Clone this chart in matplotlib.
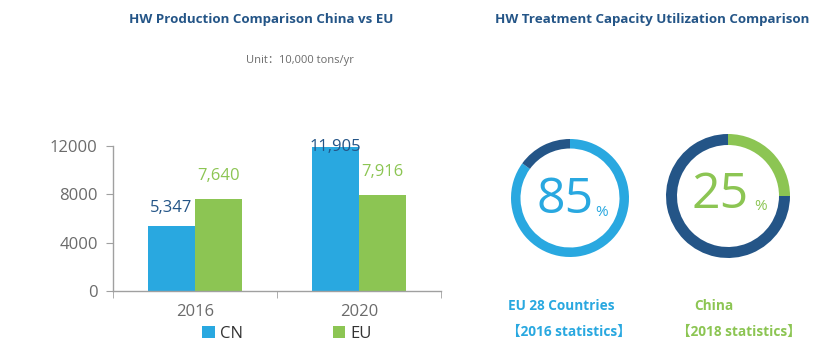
import matplotlib
matplotlib.use("Agg")
import matplotlib.pyplot as plt
import numpy as np

plt.rcParams['font.family'] = ['Open Sans', 'Noto Sans CJK SC', 'DejaVu Sans']

# ---- data ----
years = ["2016", "2020"]
cn_values = [5347, 11905]
eu_values = [7640, 7916]
series_names = ["CN", "EU"]
yticks = [0, 4000, 8000, 12000]

util_values = [85, 25]
util_labels = ["EU 28 Countries", "China"]
util_sub = ["【2016 statistics】", "【2018 statistics】"]

# ---- colors ----
LIGHT_BLUE = "#29a8e0"
DARK_BLUE = "#245587"
GREEN = "#8cc553"
GRAY = "#6b6b6b"
AXIS_GRAY = "#a0a0a0"

W, H = 834, 364
fig = plt.figure(figsize=(W / 100, H / 100), dpi=100)

def px_axes(x0, y0, x1, y1):
    """axes from pixel box (top-left origin)"""
    return fig.add_axes([x0 / W, 1 - y1 / H, (x1 - x0) / W, (y1 - y0) / H])

# ---- bar chart ----
ax = px_axes(113, 146, 441, 291)
x = np.arange(len(years))
bw = 0.287
b1 = ax.bar(x - bw / 2, cn_values, bw, color=LIGHT_BLUE, label=series_names[0])
b2 = ax.bar(x + bw / 2, eu_values, bw, color=GREEN, label=series_names[1])
ax.set_xlim(-0.5, 1.5)
ax.set_ylim(0, 12000)
ax.set_yticks(yticks)
ax.set_yticklabels([str(v) for v in yticks])
ax.set_xticks(x)
ax.set_xticklabels(years)
ax.set_xticks([-0.5, 0.5, 1.5], minor=True)
ax.tick_params(axis='x', which='major', length=0, pad=9, labelsize=12, labelcolor=GRAY)
ax.tick_params(axis='x', which='minor', length=5, direction='out', color=AXIS_GRAY)
ax.tick_params(axis='y', length=5, direction='out', color=AXIS_GRAY, labelsize=12, labelcolor=GRAY, pad=6)
for s in ['top', 'right']:
    ax.spines[s].set_visible(False)
for s in ['left', 'bottom']:
    ax.spines[s].set_color(AXIS_GRAY)
    ax.spines[s].set_linewidth(1)

for xi, v in zip(x, cn_values):
    ax.text(xi - bw / 2, min(v + 1500, 11900), f"{v:,}", ha='center', va='center',
            color=DARK_BLUE, fontsize=12)
for xi, v in zip(x, eu_values):
    ax.text(xi + bw / 2, min(v + 1900, 11900), f"{v:,}", ha='center', va='center',
            color=GREEN, fontsize=12)

fig.legend(handles=[b1, b2], loc='center', bbox_to_anchor=(287 / W, 1 - 334 / H),
           ncol=2, frameon=False, handlelength=0.75, handleheight=0.75,
           handletextpad=0.3, columnspacing=5.4, fontsize=12, labelcolor='#333333',
           borderpad=0.2)

# ---- titles ----
fig.text(261 / W, 1 - 20 / H, "HW Production Comparison China vs EU", ha='center', va='center',
         fontsize=9.6, fontweight='bold', color=DARK_BLUE)
fig.text(300 / W, 1 - 61 / H, "Unit：10,000 tons/yr", ha='center', va='center',
         fontsize=8.0, color=GRAY)
fig.text(652 / W, 1 - 20 / H, "HW Treatment Capacity Utilization Comparison", ha='center', va='center',
         fontsize=9.6, fontweight='bold', color=DARK_BLUE)

# ---- donuts ----
donut_specs = [
    dict(cx=570, cy=198, r=59, w=9.5, color=LIGHT_BLUE, num=(565, 200), pct=(602, 212),
         lab=(561, 306), sub=(569, 332)),
    dict(cx=728, cy=196, r=62, w=11, color=GREEN, num=(720, 195), pct=(761, 207),
         lab=(714, 306), sub=(739, 332)),
]
for val, spec, lab, sub in zip(util_values, donut_specs, util_labels, util_sub):
    r = spec['r']
    dax = px_axes(spec['cx'] - r, spec['cy'] - r, spec['cx'] + r, spec['cy'] + r)
    dax.pie([val, 100 - val], colors=[spec['color'], DARK_BLUE], startangle=90,
            counterclock=False, radius=1,
            wedgeprops=dict(width=spec['w'] / r, linewidth=0))
    dax.set_xlim(-1, 1)
    dax.set_ylim(-1, 1)
    dax.set_aspect('equal')
    dax.axis('off')
    fig.text(spec['num'][0] / W, 1 - spec['num'][1] / H, f"{val}", ha='center', va='center',
             fontsize=36, color=spec['color'])
    fig.text(spec['pct'][0] / W, 1 - spec['pct'][1] / H, "%", ha='center', va='center',
             fontsize=11, color=spec['color'])
    fig.text(spec['lab'][0] / W, 1 - spec['lab'][1] / H, lab, ha='center', va='center',
             fontsize=9.8, fontweight='bold', color=spec['color'])
    fig.text(spec['sub'][0] / W, 1 - spec['sub'][1] / H, sub, ha='center', va='center',
             fontsize=9.8, fontweight='bold', color=spec['color'])

fig.savefig("out.png", dpi=100)
